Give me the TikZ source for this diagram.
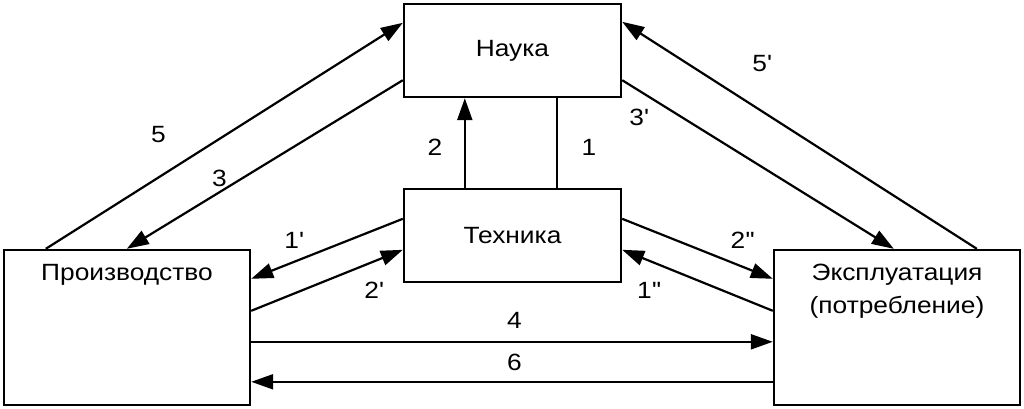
\documentclass[tikz,border=0pt]{standalone}
\usepackage{fontspec}
\setmainfont{Liberation Sans}[FakeStretch=1.12]
\usetikzlibrary{arrows.meta, calc}
\newcommand{\pr}{\textquotesingle}

\begin{document}
\begin{tikzpicture}[x=1pt, y=-1pt,
    every node/.style={font=\fontsize{23.5}{33}\selectfont},
    block/.style={draw, line width=2.4pt, inner sep=0pt},
    flow/.style={line width=2.2pt, -{Triangle[length=22pt, width=15pt]}},
    link/.style={line width=2.2pt},
    toptext/.style={anchor=north, inner sep=0pt, yshift=-15pt, align=center}]
    \useasboundingbox (0,0) rectangle (1024,408);

    % blocks
    \node[block, minimum width=217pt, minimum height=93pt] (nauka) at (512.5,50.5) {Наука};
    \node[block, minimum width=217pt, minimum height=93pt] (tekh) at (512.5,235.5) {Техника};
    \node[block, minimum width=246pt, minimum height=155pt,
          label={[toptext, name=proizvtxt]north:Производство}] (proizv) at (127,327.5) {};
    \node[block, minimum width=246pt, minimum height=155pt,
          label={[toptext, name=expltxt]north:Эксплуатация\\(потребление)}] (expl) at (897,327.5) {};

    % science -- technology
    \draw[flow] ($(tekh.north west)+(62,0)$) -- ($(nauka.south west)+(62,0)$);
    \draw[link] ($(tekh.north west)+(154,0)$) -- ($(nauka.south west)+(154,0)$);

    % science -- production / exploitation
    \draw[flow] ($(proizv.north west)+(43,0)$) -- ($(nauka.north west)+(0,20)$);
    \draw[flow] ($(nauka.south west)+(0,-18)$) -- ($(proizv.north west)+(124,0)$);
    \draw[flow] ($(nauka.south east)+(0,-18)$) -- ($(expl.north west)+(121,0)$);
    \draw[flow] ($(expl.north west)+(204,0)$) -- ($(nauka.north east)+(0,19)$);

    % technology -- production / exploitation
    \draw[flow] ($(tekh.north west)+(0,31)$) -- ($(proizv.north east)+(0,30)$);
    \draw[flow] ($(proizv.north east)+(0,62)$) -- ($(tekh.north west)+(0,62)$);
    \draw[flow] ($(tekh.north east)+(0,31)$) -- ($(expl.north west)+(0,30)$);
    \draw[flow] ($(expl.north west)+(0,62)$) -- ($(tekh.north east)+(0,62)$);

    % production -- exploitation
    \draw[flow] ($(proizv.north east)+(0,93)$) -- ($(expl.north west)+(0,93)$);
    \draw[flow] ($(expl.north west)+(0,133)$) -- ($(proizv.north east)+(0,133)$);

    % numbers
    \node (n5) at (158.5,135) {5};
    \node (n3) at (219.5,178.5) {3};
    \node (n2) at (435,147) {2};
    \node (n1) at (589,147) {1};
    \node (n1p) at (294,240.5) {1\pr};
    \node (n2p) at (374,290.5) {2\pr};
    \node (n2pp) at (742.5,240.5) {2\pr\pr};
    \node (n1pp) at (649,290) {1\pr\pr};
    \node (n4) at (514.5,320) {4};
    \node (n6) at (514.5,362) {6};
    \node (n3p) at (639,117.5) {3\pr};
    \node (n5p) at (762,64) {5\pr};
\end{tikzpicture}
\end{document}
